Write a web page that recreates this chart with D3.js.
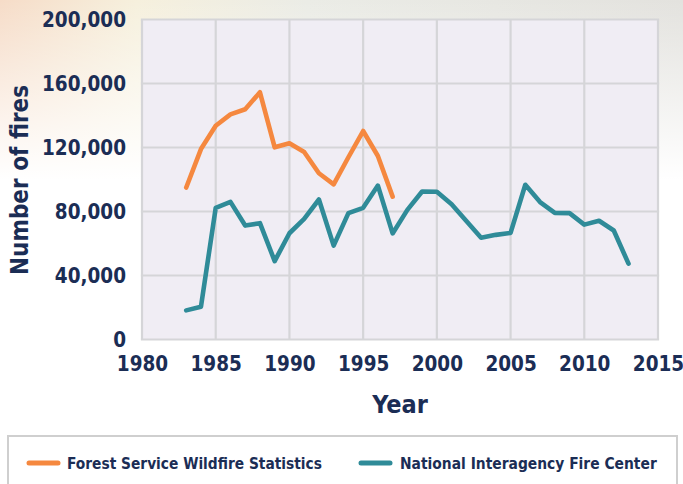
<!DOCTYPE html>
<html><head><meta charset="utf-8">
<script src="https://cdn.jsdelivr.net/npm/d3@7"></script>
<style>
html,body{margin:0;padding:0;background:#fff;}
svg{display:block;}
text{font-family:"DejaVu Sans Condensed","DejaVu Sans",sans-serif;font-weight:bold;fill:#1b2d55;font-stretch:condensed;}
</style></head>
<body>
<svg id="chart" width="683" height="484"></svg>
<script>
const forestYears = [1983,1984,1985,1986,1987,1988,1989,1990,1991,1992,1993,1994,1995,1996,1997];
const forestValues = [95000,119000,133600,140700,143900,154500,120100,122600,117200,103900,97000,113900,130300,114700,89300];
const nifcYears = [1983,1984,1985,1986,1987,1988,1989,1990,1991,1992,1993,1994,1995,1996,1997,1998,1999,2000,2001,2002,2003,2004,2005,2006,2007,2008,2009,2010,2011,2012,2013];
const nifcValues = [18200,20500,82300,86000,71200,72700,49000,66400,75400,87500,58700,79000,82300,96200,66300,81000,92500,92300,84500,74000,63600,65400,66600,96700,85900,79100,79000,71800,74200,68100,47400];
const xTicks = [1980,1985,1990,1995,2000,2005,2010,2015];
const yTicks = [0,40000,80000,120000,160000,200000];
const seriesNames = ["Forest Service Wildfire Statistics","National Interagency Fire Center"];
const seriesColors = ["#f5883f","#2f8b98"];

(function(){
const svg = d3.select("#chart");
const W = 683, H = 484;
const pL = 142, pR = 658, pT = 19.5, pB = 339.5;

const defs = svg.append("defs");
const hg = defs.append("linearGradient").attr("id","hg").attr("x1","0").attr("x2","1").attr("y1","0").attr("y2","0");
hg.append("stop").attr("offset","0").attr("stop-color","#f6dcc8");
hg.append("stop").attr("offset","0.2").attr("stop-color","#f6f0dd");
hg.append("stop").attr("offset","0.45").attr("stop-color","#ebece6");
hg.append("stop").attr("offset","1").attr("stop-color","#e3e2de");
const vg = defs.append("linearGradient").attr("id","vg").attr("x1","0").attr("x2","0").attr("y1","0").attr("y2","1");
vg.append("stop").attr("offset","0").attr("stop-color","#fff").attr("stop-opacity",0);
vg.append("stop").attr("offset","0.3").attr("stop-color","#fff").attr("stop-opacity",0.3);
vg.append("stop").attr("offset","1").attr("stop-color","#fff").attr("stop-opacity",1);
svg.append("rect").attr("width",W).attr("height",H).attr("fill","#fff");
svg.append("rect").attr("width",W).attr("height",180).attr("fill","url(#hg)");
svg.append("rect").attr("width",W).attr("height",180).attr("fill","url(#vg)");

const x = d3.scaleLinear().domain([1980,2015]).range([pL,pR]);
const y = d3.scaleLinear().domain([0,200000]).range([pB,pT]);

svg.append("rect").attr("x",pL).attr("y",pT).attr("width",pR-pL).attr("height",pB-pT)
  .attr("fill","#f0edf4");

const grid = svg.append("g");
grid.selectAll("line.v").data(xTicks).join("line").attr("class","v")
  .attr("x1",d=>x(d)).attr("x2",d=>x(d)).attr("y1",pT).attr("y2",pB)
  .attr("stroke","#d5d5d8").attr("stroke-width",2.2);
grid.selectAll("line.h").data(yTicks).join("line").attr("class","h")
  .attr("y1",d=>y(d)).attr("y2",d=>y(d)).attr("x1",pL-1.1).attr("x2",pR+1.1)
  .attr("stroke","#d5d5d8").attr("stroke-width",2.2);

const fmt = d3.format(",");
const yAxis = svg.append("g").attr("transform",`translate(${pL-16},0)`)
  .call(d3.axisLeft(y).tickValues(yTicks).tickFormat(fmt).tickSize(0).tickPadding(0));
yAxis.select(".domain").remove();
yAxis.selectAll("text").style("font-size","20.5px").attr("dy","0.36em").attr("fill","#1b2d55");

const xAxis = svg.append("g").attr("transform",`translate(0,${pB+17})`)
  .call(d3.axisBottom(x).tickValues(xTicks).tickFormat(d3.format("d")).tickSize(0).tickPadding(0));
xAxis.select(".domain").remove();
xAxis.selectAll("text").style("font-size","20.5px").attr("dy","0.71em").attr("fill","#1b2d55");

svg.append("text").attr("transform",`translate(28,180) rotate(-90)`).attr("text-anchor","middle")
  .style("font-size","24px").text("Number of fires");
svg.append("text").attr("x",400).attr("y",413).attr("text-anchor","middle")
  .style("font-size","25px").text("Year");

const line = d3.line().x(d=>x(d[0])).y(d=>y(d[1]));
const series = [d3.zip(forestYears,forestValues), d3.zip(nifcYears,nifcValues)];
series.forEach((s,i)=>{
  svg.append("path").datum(s).attr("d",line).attr("fill","none")
    .attr("stroke",seriesColors[i]).attr("stroke-width",4.6)
    .attr("stroke-linejoin","round").attr("stroke-linecap","round");
});

svg.append("rect").attr("x",8).attr("y",436).attr("width",669).attr("height",60)
  .attr("fill","#fff").attr("stroke","#cfcfcf").attr("stroke-width",2);
const legX = [[29,58,67,322],[361,390,400,657]];
seriesNames.forEach((n,i)=>{
  const [a,b,tx,te] = legX[i];
  svg.append("line").attr("x1",a).attr("x2",b).attr("y1",463).attr("y2",463)
    .attr("stroke",seriesColors[i]).attr("stroke-width",5).attr("stroke-linecap","round");
  const t = svg.append("text").attr("x",tx).attr("y",469).style("font-size","17px").text(n);
  const len = t.node().getComputedTextLength();
  const target = te - tx;
  if (len > 0) t.style("font-size", Math.min(18, 17*target/len).toFixed(2)+"px");
});
})();
</script>
</body></html>
